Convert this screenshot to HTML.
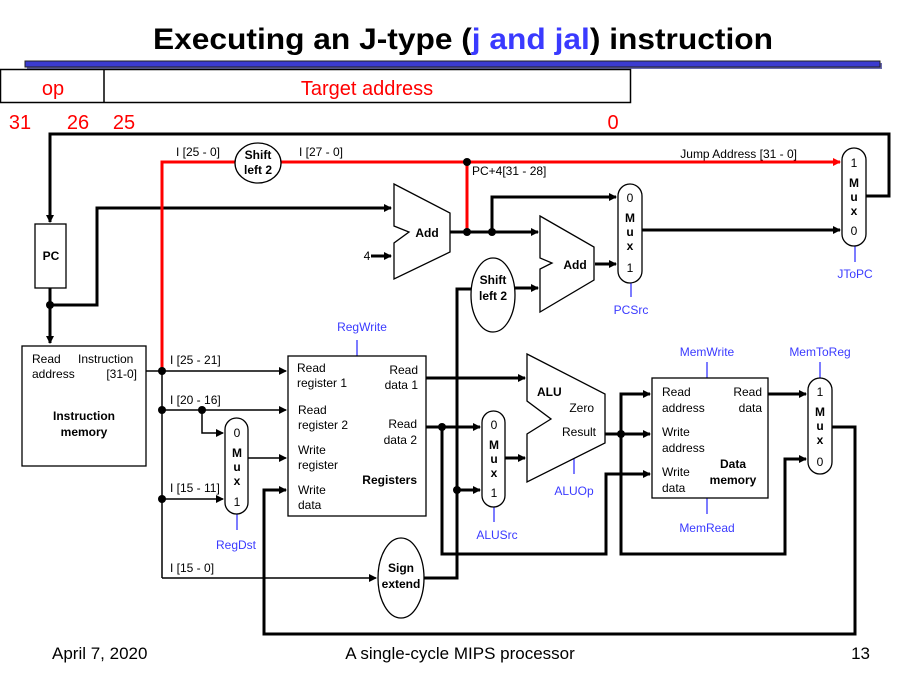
<!DOCTYPE html>
<html><head><meta charset="utf-8"><style>
html,body{margin:0;padding:0;background:#fff;}
svg{display:block;}
text{font-family:"Liberation Sans",Arial,sans-serif;font-size:12px;fill:#000;}
.b{font-weight:bold;}
.bl{fill:#3a3aff;}
.r{fill:#f00;}
</style></head><body>
<svg width="912" height="677" viewBox="0 0 912 677" xmlns="http://www.w3.org/2000/svg">
<defs>
<marker id="a" markerWidth="8" markerHeight="8" refX="7" refY="4" orient="auto" markerUnits="userSpaceOnUse"><path d="M0,0 L8,4 L0,8 z" fill="#000"/></marker>
<marker id="ar" markerWidth="8" markerHeight="8" refX="7" refY="4" orient="auto" markerUnits="userSpaceOnUse"><path d="M0,0 L8,4 L0,8 z" fill="#f00"/></marker>
</defs>
<!-- Title -->
<text x="463" y="49" text-anchor="middle" class="b" style="font-size:30px" textLength="620" lengthAdjust="spacingAndGlyphs">Executing an J-type (<tspan class="bl">j and jal</tspan>) instruction</text>
<rect x="27" y="63" width="855" height="6" fill="#6a6ab0"/>
<rect x="25" y="61" width="855" height="6" fill="#3b3bd0" stroke="#222" stroke-width="1"/>
<!-- format -->
<rect x="0.5" y="69.5" width="630" height="33" fill="#fff" stroke="#000" stroke-width="1.5"/>
<line x1="104" y1="69" x2="104" y2="103" stroke="#000" stroke-width="1.5"/>
<text x="53" y="95" text-anchor="middle" class="r" style="font-size:20px">op</text>
<text x="367" y="95" text-anchor="middle" class="r" style="font-size:20px">Target address</text>
<text x="20" y="129" text-anchor="middle" class="r" style="font-size:20px">31</text>
<text x="78" y="129" text-anchor="middle" class="r" style="font-size:20px">26</text>
<text x="124" y="129" text-anchor="middle" class="r" style="font-size:20px">25</text>
<text x="613" y="129" text-anchor="middle" class="r" style="font-size:20px">0</text>

<g fill="none" stroke="#000" stroke-width="3">
<!-- feedback loop -->
<polyline points="866,196 889,196 889,134 50,134 50,222" marker-end="url(#a)"/>
<!-- PC out -->
<polyline points="50,288 50,343" marker-end="url(#a)"/>
<polyline points="50,305 97,305 97,208 391,208" marker-end="url(#a)"/>
<line x1="371" y1="256" x2="391" y2="256" marker-end="url(#a)"/>
<!-- Add1 out -->
<line x1="450" y1="232" x2="538" y2="232" marker-end="url(#a)"/>
<polyline points="492,232 492,197 616,197" marker-end="url(#a)"/>
<line x1="595" y1="264" x2="616" y2="264" marker-end="url(#a)"/>
<line x1="642" y1="230" x2="840" y2="230" marker-end="url(#a)"/>
<line x1="515" y1="288" x2="538" y2="288" marker-end="url(#a)"/>
<polyline points="471,289 457,289 457,578 424,578"/>
<line x1="457" y1="490" x2="480" y2="490" marker-end="url(#a)"/>
<!-- reg outputs -->
<line x1="426" y1="378" x2="525" y2="378" marker-end="url(#a)"/>
<line x1="426" y1="427" x2="480" y2="427" marker-end="url(#a)"/>
<polyline points="442,427 442,554 606,554 606,474 650,474" marker-end="url(#a)"/>
<line x1="505" y1="458" x2="525" y2="458" marker-end="url(#a)"/>
<line x1="605" y1="434" x2="650" y2="434" marker-end="url(#a)"/>
<polyline points="621,434 621,394 650,394" marker-end="url(#a)"/>
<polyline points="621,434 621,554 785,554 785,459 806,459" marker-end="url(#a)"/>
<line x1="768" y1="394" x2="806" y2="394" marker-end="url(#a)"/>
<polyline points="832,427 855,427 855,634 264,634 264,490 286,490" marker-end="url(#a)"/>
</g>
<g fill="none" stroke="#000" stroke-width="1.5">
<line x1="146" y1="371" x2="286" y2="371" marker-end="url(#a)"/>
<line x1="162" y1="371" x2="162" y2="578"/>
<line x1="162" y1="410" x2="286" y2="410" marker-end="url(#a)"/>
<polyline points="202,410 202,433 223,433" marker-end="url(#a)"/>
<line x1="248" y1="458" x2="286" y2="458" marker-end="url(#a)"/>
<line x1="162" y1="499" x2="223" y2="499" marker-end="url(#a)"/>
<line x1="162" y1="578" x2="376" y2="578" marker-end="url(#a)"/>
</g>
<!-- red -->
<g fill="none" stroke="#f00" stroke-width="3">
<polyline points="162,371 162,162 235,162"/>
<line x1="281" y1="162" x2="840" y2="162" marker-end="url(#ar)"/>
<line x1="467" y1="162" x2="467" y2="232"/>
</g>
<!-- dots -->
<g fill="#000">
<circle cx="50" cy="305" r="4"/><circle cx="467" cy="162" r="4"/><circle cx="467" cy="232" r="4"/><circle cx="492" cy="232" r="4"/>
<circle cx="162" cy="371" r="4"/><circle cx="162" cy="410" r="4"/><circle cx="202" cy="410" r="4"/><circle cx="162" cy="499" r="4"/>
<circle cx="442" cy="427" r="4"/><circle cx="457" cy="490" r="4"/><circle cx="621" cy="434" r="4"/>
</g>
<!-- blue control lines -->
<g stroke="#5050ff" stroke-width="1.5">
<line x1="631" y1="283" x2="631" y2="297"/><line x1="855" y1="246" x2="855" y2="262"/>
<line x1="357" y1="340" x2="357" y2="356"/><line x1="237" y1="514" x2="237" y2="530"/>
<line x1="494" y1="507" x2="494" y2="522"/><line x1="574" y1="459" x2="574" y2="474"/>
<line x1="707" y1="362" x2="707" y2="378"/><line x1="707" y1="498" x2="707" y2="514"/>
<line x1="820" y1="362" x2="820" y2="378"/>
</g>
<!-- components -->
<g fill="#fff" stroke="#000" stroke-width="1.3">
<rect x="35" y="224" width="31" height="64"/>
<rect x="22" y="346" width="124" height="120"/>
<rect x="288" y="356" width="138" height="160"/>
<rect x="652" y="378" width="116" height="120"/>
<polygon points="394,184 450,213 450,252 394,279 394,243 409,232 394,226"/>
<polygon points="540,216 594,247 594,280 540,312 540,269 552,263 540,258"/>
<polygon points="527,354 605,394 605,443 527,482 527,434 551,419 527,401"/>
<rect x="618" y="184" width="24" height="99" rx="12"/>
<rect x="842" y="148" width="24" height="98" rx="12"/>
<rect x="225" y="418" width="23" height="96" rx="11.5"/>
<rect x="482" y="411" width="23" height="96" rx="11.5"/>
<rect x="808" y="378" width="24" height="96" rx="12"/>
<ellipse cx="258" cy="163" rx="23" ry="20"/>
<ellipse cx="493" cy="295" rx="22" ry="37"/>
<ellipse cx="401" cy="578" rx="23" ry="40"/>
</g>
<!-- text -->
<text x="51" y="260" text-anchor="middle" class="b">PC</text>
<text x="427" y="237" text-anchor="middle" class="b">Add</text>
<text x="575" y="269" text-anchor="middle" class="b">Add</text>
<text x="367" y="260" text-anchor="middle">4</text>
<text x="258" y="159" text-anchor="middle" class="b">Shift</text><text x="258" y="174" text-anchor="middle" class="b">left 2</text>
<text x="493" y="284" text-anchor="middle" class="b">Shift</text><text x="493" y="300" text-anchor="middle" class="b">left 2</text>
<text x="401" y="572" text-anchor="middle" class="b">Sign</text><text x="401" y="588" text-anchor="middle" class="b">extend</text>
<text x="198" y="156" text-anchor="middle">I [25 - 0]</text>
<text x="321" y="156" text-anchor="middle">I [27 - 0]</text>
<text x="472" y="175">PC+4[31 - 28]</text>
<text x="797" y="158" text-anchor="end">Jump Address [31 - 0]</text>
<g text-anchor="middle">
<text x="630" y="202">0</text><text x="630" y="222" class="b">M</text><text x="630" y="236" class="b">u</text><text x="630" y="250" class="b">x</text><text x="630" y="272">1</text>
<text x="854" y="167">1</text><text x="854" y="187" class="b">M</text><text x="854" y="201" class="b">u</text><text x="854" y="215" class="b">x</text><text x="854" y="235">0</text>
<text x="237" y="437">0</text><text x="237" y="457" class="b">M</text><text x="237" y="471" class="b">u</text><text x="237" y="485" class="b">x</text><text x="237" y="506">1</text>
<text x="494" y="429">0</text><text x="494" y="449" class="b">M</text><text x="494" y="463" class="b">u</text><text x="494" y="477" class="b">x</text><text x="494" y="497">1</text>
<text x="820" y="396">1</text><text x="820" y="416" class="b">M</text><text x="820" y="430" class="b">u</text><text x="820" y="444" class="b">x</text><text x="820" y="466">0</text>
<text x="631" y="314" class="bl">PCSrc</text><text x="855" y="278" class="bl">JToPC</text>
<text x="362" y="331" class="bl">RegWrite</text><text x="236" y="549" class="bl">RegDst</text>
<text x="497" y="539" class="bl">ALUSrc</text><text x="574" y="495" class="bl">ALUOp</text>
<text x="707" y="356" class="bl">MemWrite</text><text x="707" y="532" class="bl">MemRead</text><text x="820" y="356" class="bl">MemToReg</text>
<text x="84" y="420" class="b">Instruction</text><text x="84" y="436" class="b">memory</text>
<text x="733" y="468" class="b">Data</text><text x="733" y="484" class="b">memory</text>
</g>
<text x="32" y="363">Read</text><text x="78" y="363">Instruction</text>
<text x="32" y="378">address</text><text x="137" y="378" text-anchor="end">[31-0]</text>
<text x="170" y="364">I [25 - 21]</text>
<text x="170" y="404">I [20 - 16]</text>
<text x="170" y="492">I [15 - 11]</text>
<text x="170" y="572">I [15 - 0]</text>
<text x="297" y="372">Read</text><text x="297" y="387">register 1</text>
<text x="298" y="414">Read</text><text x="298" y="429">register 2</text>
<text x="298" y="454">Write</text><text x="298" y="469">register</text>
<text x="298" y="494">Write</text><text x="298" y="509">data</text>
<text x="418" y="374" text-anchor="end">Read</text><text x="418" y="389" text-anchor="end">data 1</text>
<text x="417" y="428" text-anchor="end">Read</text><text x="417" y="444" text-anchor="end">data 2</text>
<text x="417" y="484" text-anchor="end" class="b">Registers</text>
<text x="537" y="396" class="b">ALU</text><text x="594" y="412" text-anchor="end">Zero</text><text x="596" y="436" text-anchor="end">Result</text>
<text x="662" y="396">Read</text><text x="662" y="412">address</text>
<text x="762" y="396" text-anchor="end">Read</text><text x="762" y="412" text-anchor="end">data</text>
<text x="662" y="436">Write</text><text x="662" y="452">address</text>
<text x="662" y="476">Write</text><text x="662" y="492">data</text>
<!-- footer -->
<text x="52" y="659" style="font-size:17px">April 7, 2020</text>
<text x="460" y="659" text-anchor="middle" style="font-size:17px">A single-cycle MIPS processor</text>
<text x="870" y="659" text-anchor="end" style="font-size:17px">13</text>
</svg>
</body></html>
